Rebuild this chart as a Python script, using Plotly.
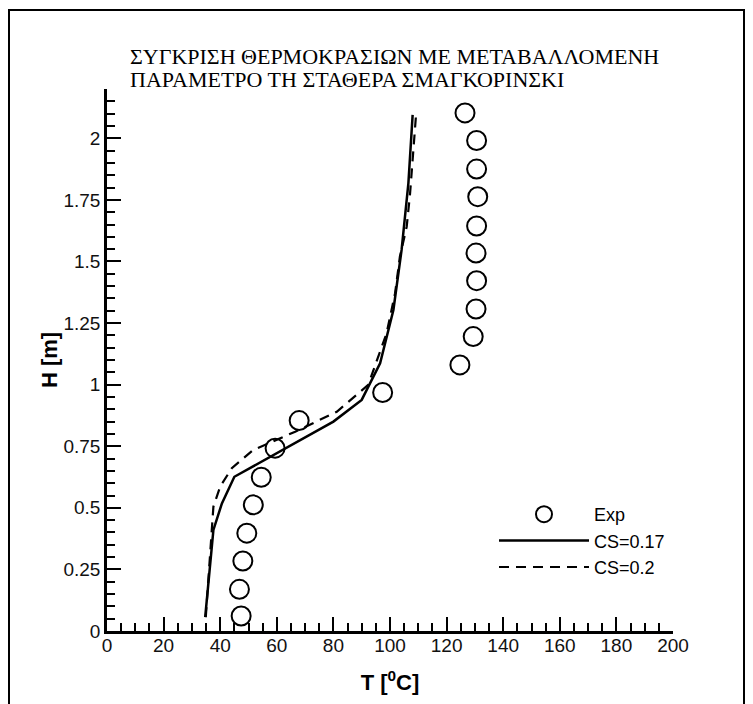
import plotly.graph_objects as go

# ---- data ----
exp_T = [126.5, 130.6, 130.6, 131.0, 130.6, 130.4, 130.6, 130.4, 129.4, 124.7,
         97.4, 67.9, 59.4, 54.5, 51.7, 49.4, 48.0, 46.8, 47.4]
exp_H = [2.103, 1.991, 1.875, 1.763, 1.644, 1.534, 1.422, 1.307, 1.195, 1.080,
         0.968, 0.854, 0.742, 0.624, 0.512, 0.397, 0.284, 0.169, 0.061]

cs017_T = [34.7, 37.6, 40.6, 45.0, 80.0, 90.0, 96.5, 101.2, 104.1, 106.5, 108.0]
cs017_H = [0.056, 0.410, 0.518, 0.626, 0.850, 0.938, 1.087, 1.303, 1.547, 1.818, 2.095]

cs02_T = [34.9, 37.1, 37.6, 40.0, 44.1, 51.7, 66.5, 81.2, 92.3, 98.8, 101.8,
          103.5, 105.9, 107.1, 108.2, 109.2]
cs02_H = [0.056, 0.397, 0.505, 0.586, 0.661, 0.735, 0.809, 0.890, 0.999, 1.209,
          1.371, 1.520, 1.641, 1.777, 1.939, 2.095]

x_tickvals = [0, 20, 40, 60, 80, 100, 120, 140, 160, 180, 200]
x_ticktext = ["0", "20", "40", "60", "80", "100", "120", "140", "160", "180", "200"]
y_tickvals = [0, 0.25, 0.5, 0.75, 1, 1.25, 1.5, 1.75, 2]
y_ticktext = ["0", "0.25", "0.5", "0.75", "1", "1.25", "1.5", "1.75", "2"]

title_lines = ["ΣΥΓΚΡΙΣΗ ΘΕΡΜΟΚΡΑΣΙΩΝ ΜΕ ΜΕΤΑΒΑΛΛΟΜΕΝΗ",
               "ΠΑΡΑΜΕΤΡΟ ΤΗ ΣΤΑΘΕΡΑ ΣΜΑΓΚΟΡΙΝΣΚΙ"]

# ---- figure (page body has an 8px margin, so layout is shifted by 8px) ----
OFF = 8
W, H = 753 - OFF, 704 - OFF
ml, mr, mt, mb = 107 - OFF, 80, 89 - OFF, 73
pw, ph = W - ml - mr, H - mt - mb

fig = go.Figure()
fig.add_trace(go.Scatter(
    x=exp_T, y=exp_H, mode="markers", name="Exp",
    marker=dict(symbol="circle-open", size=19, color="black",
                line=dict(width=2, color="black")),
))
fig.add_trace(go.Scatter(
    x=cs017_T, y=cs017_H, mode="lines", name="CS=0.17",
    line=dict(color="black", width=2.5),
))
fig.add_trace(go.Scatter(
    x=cs02_T, y=cs02_H, mode="lines", name="CS=0.2",
    line=dict(color="black", width=2.2, dash="10px,7px"),
))

tickfont = dict(family="Liberation Sans, Arial, sans-serif", size=19, color="#111")
titlefont = dict(family="Liberation Sans, Arial, sans-serif", size=22, color="black")

fig.update_xaxes(
    range=[0, 200], showgrid=False, zeroline=False,
    showline=True, linecolor="black", linewidth=2.5,
    ticks="inside", ticklen=14, tickwidth=2, tickcolor="black",
    tickvals=x_tickvals, ticktext=x_ticktext, tickfont=tickfont,
    ticklabelstandoff=-5,
    minor=dict(ticks="inside", ticklen=8, tickwidth=1.5, tickcolor="black", dtick=5, showgrid=False),
    title=dict(text="<b>T [<sup>0</sup>C]</b>", font=titlefont, standoff=21),
)
fig.update_yaxes(
    range=[0, 2.2], showgrid=False, zeroline=False,
    showline=True, linecolor="black", linewidth=2.5,
    ticks="inside", ticklen=14, tickwidth=2, tickcolor="black",
    tickvals=y_tickvals, ticktext=y_ticktext, tickfont=tickfont,
    minor=dict(ticks="inside", ticklen=8, tickwidth=1.5, tickcolor="black", dtick=0.05, showgrid=False),
    title=dict(text="<b>H [m]</b>", font=titlefont, standoff=0),
)

def px_x(x):
    return (x - OFF - ml) / pw

def px_y(y):
    return (H - mb - (y - OFF)) / ph

annotations = []
for i, line in enumerate(title_lines):
    annotations.append(dict(
        text=line, xref="paper", yref="paper",
        x=px_x(128), y=px_y(57 + 23 * i), xanchor="left", yanchor="middle",
        showarrow=False,
        font=dict(family="Liberation Serif, Times New Roman, serif", size=22, color="black"),
    ))

fig.update_layout(
    width=W, height=H,
    margin=dict(l=ml, r=mr, t=mt, b=mb),
    paper_bgcolor="white", plot_bgcolor="white",
    showlegend=True,
    legend=dict(
        x=px_x(494), y=px_y(496), xanchor="left", yanchor="top",
        font=dict(family="Liberation Sans, Arial, sans-serif", size=18, color="black"),
        bgcolor="rgba(0,0,0,0)", itemwidth=90, tracegroupgap=0,
    ),
    annotations=annotations,
    shapes=[dict(type="rect", xref="paper", yref="paper",
                 x0=px_x(9), x1=px_x(744), y0=px_y(720), y1=px_y(10),
                 line=dict(color="black", width=2), fillcolor="rgba(0,0,0,0)")],
)

fig.write_html("out.html")
